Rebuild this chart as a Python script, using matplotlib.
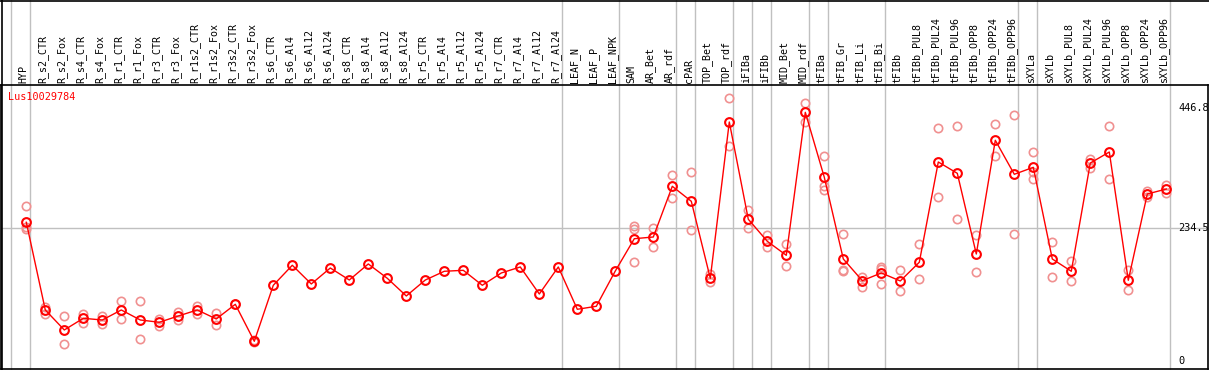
import matplotlib
matplotlib.use('Agg')
import matplotlib.pyplot as plt
from matplotlib.lines import Line2D

plt.rcParams.update({'font.family': 'DejaVu Sans Mono', 'font.size': 7})

gene = "Lus10029784"

samples = ["HYP",
           "R_s2_CTR", "R_s2_Fox", "R_s4_CTR", "R_s4_Fox", "R_r1_CTR", "R_r1_Fox",
           "R_r3_CTR", "R_r3_Fox", "R_r1s2_CTR", "R_r1s2_Fox", "R_r3s2_CTR", "R_r3s2_Fox",
           "R_s6_CTR", "R_s6_Al4", "R_s6_Al12", "R_s6_Al24", "R_s8_CTR", "R_s8_Al4",
           "R_s8_Al12", "R_s8_Al24", "R_r5_CTR", "R_r5_Al4", "R_r5_Al12", "R_r5_Al24",
           "R_r7_CTR", "R_r7_Al4", "R_r7_Al12", "R_r7_Al24",
           "LEAF_N", "LEAF_P", "LEAF_NPK",
           "SAM", "AR_Bet", "AR_rdf", "cPAR", "TOP_Bet", "TOP_rdf", "iFIBa", "iFIBb",
           "MID_Bet", "MID_rdf", "tFIBa", "tFIB_Gr", "tFIB_Li", "tFIB_Bi",
           "tFIBb", "tFIBb_PUL8", "tFIBb_PUL24", "tFIBb_PUL96", "tFIBb_OPP8",
           "tFIBb_OPP24", "tFIBb_OPP96", "sXYLa",
           "sXYLb", "sXYLb_PUL8", "sXYLb_PUL24", "sXYLb_PUL96", "sXYLb_OPP8",
           "sXYLb_OPP24", "sXYLb_OPP96"]

# sizes of the sample groups separated by vertical lines
group_sizes = [1, 28, 3, 3, 1, 2, 1, 1, 2, 1, 3, 7, 1, 7]

means = [245.2,
         90.4, 55.1, 75.7, 72.7, 90.4, 72.7, 68.7, 79.8, 90.4, 74.5, 100.4, 35.1,
         134.0, 169.3, 136.3, 164.5, 143.3, 171.6, 146.3, 115.1,
         143.3, 158.7, 160.4, 134.0, 155.7, 166.3, 118.6, 166.3,
         91.6, 96.9, 159.2,
         216.2, 219.2, 308.7, 282.2, 146.3, 422.2, 250.5, 211.6,
         186.9, 439.3, 324.6, 180.4, 142.1, 155.7,
         141.6, 174.6, 351.6, 331.6, 189.2, 389.9, 329.9, 342.2,
         180.4, 158.7, 349.8, 369.2, 142.8, 295.1, 303.9]

reps = [[273.9, 236.9, 233.3],
        [95.7, 83.3], [79.2, 29.8], [83.8, 66.9], [80.3, 65.7], [106.3, 74.0], [106.3, 38.7],
        [75.0, 62.7], [86.3, 73.2], [97.4, 82.8], [85.6, 63.4], [100.4], [33.5, 37.0],
        [], [], [], [], [], [], [], [],
        [], [], [], [], [], [], [], [],
        [], [], [],
        [239.2, 232.5, 175.1], [235.1, 201.0], [328.1, 288.0], [333.4, 231.0],
        [153.9, 139.3], [464.0, 380.4], [266.9, 234.6], [222.2, 202.1],
        [206.9, 167.5], [455.7, 422.2], [361.6, 309.2, 302.2], [224.5, 159.6, 161.0],
        [149.1, 130.4], [166.3, 136.3, 163.5],
        [161.0, 123.9], [206.9, 144.6], [411.1, 289.8], [415.1, 250.5], [222.2, 156.9],
        [418.7, 361.6], [434.5, 224.5], [369.2, 334.5, 322.1],
        [209.9, 148.6], [176.9, 141.0], [357.4, 341.0], [415.1, 321.0], [161.5, 125.7],
        [300.9, 289.3], [310.5, 296.3]]

ymax_label = 446.8
ymid_label = 234.5

fig = plt.figure(figsize=(12.09, 3.70), dpi=100)
W, H = 1209, 370
# plot area in pixels: x 1..1208, y 85..369 (from top)
ax = fig.add_axes([1 / W, 1 / H, 1207 / W, 284 / H])

n = len(samples)
step = 19.0
x0 = 26.3
ax.set_xlim((1 - x0) / step, (1208 - x0) / step)
ax.set_ylim(-13.8, 487.5)
ax.set_xticks([])
ax.set_yticks([])
for s in ax.spines.values():
    s.set_color('black')
    s.set_linewidth(1.2)

xs = list(range(n))

# horizontal grid at mid value
ax.axhline(ymid_label, color='#c0c0c0', lw=1, zorder=1)

# vertical group separators, through the header as well
top_frac = 369 / 284
bounds = [-1]
c = -1
for g in group_sizes:
    c += g
    bounds.append(c)
off = 4 / step
for b in bounds:
    ax.plot([b + off, b + off], [0, top_frac], transform=ax.get_xaxis_transform(),
            color='#c0c0c0', lw=1, clip_on=False, zorder=1)

# replicates
for i, r in enumerate(reps):
    if r:
        ax.plot([i] * len(r), r, 'o', ms=6, mfc='none', mec='#f09090', mew=1.2, zorder=2)

ax.plot(xs, means, '-', color='red', lw=1, zorder=3)
ax.plot(xs, means, 'o', ms=6.3, mfc='none', mec='red', mew=1.5, zorder=4)

# header labels
trans = ax.get_xaxis_transform()
for i, lab in enumerate(samples):
    ax.text(i - 2.5 / step, (369 - 83) / 284, lab, rotation=90, ha='center', va='bottom',
            transform=trans, fontsize=7.2, clip_on=False)

# value labels on the right
ax.text((1178 - x0) / step, ymax_label, f"{ymax_label}", ha='left', va='center', fontsize=7.4)
ax.text((1178 - x0) / step, ymid_label, f"{ymid_label}", ha='left', va='center', fontsize=7.4)
ax.text((1178 - x0) / step, 0, "0", ha='left', va='center', fontsize=7.4)

ax.text((8 - x0) / step, 466, gene, color='red', ha='left', va='center', fontsize=7.3)

# top border and left border of header
fig.add_artist(Line2D([0, 1], [1 - 0.6 / H, 1 - 0.6 / H], transform=fig.transFigure, color='black', lw=1.2))
fig.add_artist(Line2D([1.5 / W, 1.5 / W], [0, 1], transform=fig.transFigure, color='black', lw=1.2))

fig.savefig('out.png', dpi=100)
